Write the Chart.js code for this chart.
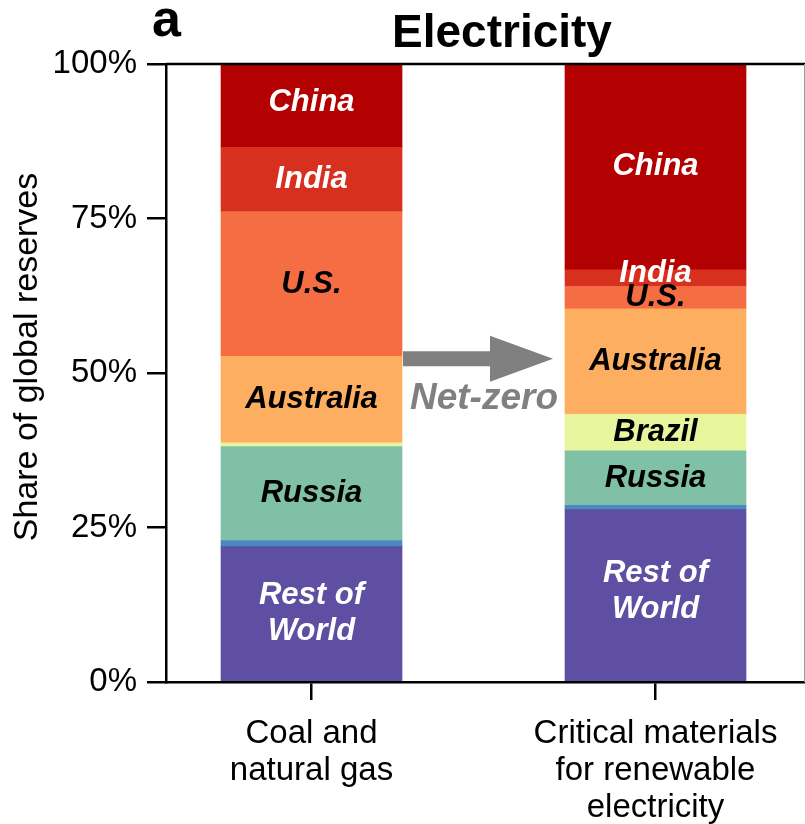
<!DOCTYPE html>
<html>
<head>
<meta charset="utf-8">
<script src="https://cdn.jsdelivr.net/npm/chart.js@4.4.1/dist/chart.umd.min.js"></script>
<style>
  html, body { margin: 0; padding: 0; background: #fff; }
  #wrap { width: 805px; height: 824px; }
</style>
</head>
<body>
<div id="wrap"><canvas id="c" width="805" height="824"></canvas></div>
<script>
// Categories (x-axis) and tick labels
const categories = [
  ['Coal and', 'natural gas'],
  ['Critical materials', 'for renewable', 'electricity']
];
const yTicks = [0, 25, 50, 75, 100];

// Stack order, bottom to top
const regions = ['Rest of World', 'Other', 'Russia', 'Brazil', 'Australia', 'U.S.', 'India', 'China'];

// Share of global reserves (%), one value per region in stack order
const coalGasShare = [21.9, 1.0, 15.2, 0.6, 14.0, 23.4, 10.4, 13.5];
const criticalMaterialsShare = [27.9, 0.7, 8.8, 5.9, 17.1, 3.6, 2.7, 33.3];

// Which segments carry a name inside the bar
const coalGasLabelled = [true, false, true, false, true, true, true, true];
const criticalLabelled = [true, false, true, true, true, true, true, true];

// Styling
const regionColors = ['#5e4fa2', '#4b87c0', '#7fc0a7', '#e7f59c', '#fdae61', '#f46d43', '#d7301f', '#b30000'];
const labelInk = ['#fff', '#000', '#000', '#000', '#000', '#000', '#fff', '#fff'];
const FONT = '"Liberation Sans", Arial, Helvetica, sans-serif';
const BAR_WIDTH = 181;

const datasets = regions.map((name, i) => ({
  label: name,
  data: [
    { x: 0, y: coalGasShare[i] },
    { x: 1, y: criticalMaterialsShare[i] }
  ],
  backgroundColor: regionColors[i],
  borderWidth: 0,
  barThickness: BAR_WIDTH,
  showName: [coalGasLabelled[i], criticalLabelled[i]]
}));

// Names inside segments, arrow, frame and headings
const annotations = {
  id: 'annotations',
  afterDatasetsDraw(chart) {
    const { ctx, chartArea: a, scales: { y } } = chart;
    ctx.save();

    // segment names
    ctx.font = 'italic bold 31px ' + FONT;
    ctx.textAlign = 'center';
    ctx.textBaseline = 'middle';
    chart.data.datasets.forEach((ds, di) => {
      const meta = chart.getDatasetMeta(di);
      meta.data.forEach((bar, bi) => {
        if (!ds.showName[bi]) return;
        let cy = (bar.y + bar.base) / 2;
        if (bi === 1 && ds.label === 'India') cy -= 5;
        if (bi === 1 && ds.label === 'Rest of World') cy -= 4;
        if (bi === 0 && ds.label === 'China') cy -= 3;
        ctx.fillStyle = labelInk[di];
        if (ds.label === 'Rest of World') {
          ctx.fillText('Rest of', bar.x, cy - 18);
          ctx.fillText('World', bar.x, cy + 18);
        } else {
          ctx.fillText(ds.label, bar.x, cy);
        }
      });
    });

    // transition arrow between the two bars
    const left = chart.getDatasetMeta(0).data[0];
    const right = chart.getDatasetMeta(0).data[1];
    const x0 = left.x + BAR_WIDTH / 2 + 1;
    const x1 = right.x - BAR_WIDTH / 2 - 12;
    const ay = y.getPixelForValue(52.3);
    const headLen = 63, shaftHalf = 7.5, headHalf = 23;
    ctx.fillStyle = '#808080';
    ctx.beginPath();
    ctx.moveTo(x0, ay - shaftHalf);
    ctx.lineTo(x1 - headLen, ay - shaftHalf);
    ctx.lineTo(x1 - headLen, ay - headHalf);
    ctx.lineTo(x1, ay);
    ctx.lineTo(x1 - headLen, ay + headHalf);
    ctx.lineTo(x1 - headLen, ay + shaftHalf);
    ctx.lineTo(x0, ay + shaftHalf);
    ctx.closePath();
    ctx.fill();
    ctx.font = 'italic bold 37px ' + FONT;
    ctx.fillText('Net-zero', (x0 + x1 + 12) / 2, ay + 40);

    // top edge of the frame and faint right edge
    ctx.strokeStyle = '#000';
    ctx.lineWidth = 2.5;
    ctx.beginPath();
    ctx.moveTo(a.left, a.top);
    ctx.lineTo(a.right, a.top);
    ctx.stroke();
    ctx.strokeStyle = '#9a9a9a';
    ctx.lineWidth = 1;
    ctx.beginPath();
    ctx.moveTo(a.right - 0.5, a.top);
    ctx.lineTo(a.right - 0.5, a.bottom);
    ctx.stroke();

    // headings
    ctx.fillStyle = '#000';
    ctx.textBaseline = 'alphabetic';
    ctx.font = 'bold 46px ' + FONT;
    ctx.fillText('Electricity', 502, 47);
    ctx.textAlign = 'left';
    ctx.font = 'bold 52px ' + FONT;
    ctx.fillText('a', 152, 36);

    // y-axis title
    ctx.font = '34px ' + FONT;
    ctx.textAlign = 'center';
    ctx.textBaseline = 'middle';
    ctx.translate(28, 357);
    ctx.rotate(-Math.PI / 2);
    ctx.fillText('Share of global reserves', 0, 0);
    ctx.restore();
  }
};

new Chart(document.getElementById('c'), {
  type: 'bar',
  data: { datasets },
  options: {
    responsive: false,
    devicePixelRatio: 1,
    animation: false,
    layout: { padding: { top: 64, left: 0, right: 0, bottom: 0 } },
    plugins: {
      legend: { display: false },
      tooltip: { enabled: false },
      title: { display: false }
    },
    scales: {
      x: {
        type: 'linear',
        stacked: true,
        offset: false,
        min: -0.423,
        max: 1.4346,
        afterBuildTicks(scale) {
          scale.ticks = categories.map((_, i) => ({ value: i }));
        },
        afterFit(scale) { scale.height = 142; },
        ticks: {
          callback: (v, i) => categories[i],
          color: '#000',
          font: { family: FONT, size: 33, lineHeight: 1.13 },
          padding: 15,
          maxRotation: 0,
          autoSkip: false
        },
        grid: {
          display: true,
          offset: false,
          drawOnChartArea: false,
          drawTicks: true,
          tickLength: 18,
          color: '#000',
          lineWidth: 2.5
        },
        border: { display: true, color: '#000', width: 2.5 }
      },
      y: {
        stacked: true,
        min: 0,
        max: 100,
        afterBuildTicks(scale) {
          scale.ticks = yTicks.map(v => ({ value: v }));
        },
        afterFit(scale) { scale.width = 166; },
        ticks: {
          callback: v => v + '%',
          color: '#000',
          font: { family: FONT, size: 33 },
          padding: 10
        },
        grid: {
          display: true,
          drawOnChartArea: false,
          drawTicks: true,
          tickLength: 19,
          color: '#000',
          lineWidth: 2.5
        },
        border: { display: true, color: '#000', width: 2.5 }
      }
    }
  },
  plugins: [annotations]
});
</script>
</body>
</html>
